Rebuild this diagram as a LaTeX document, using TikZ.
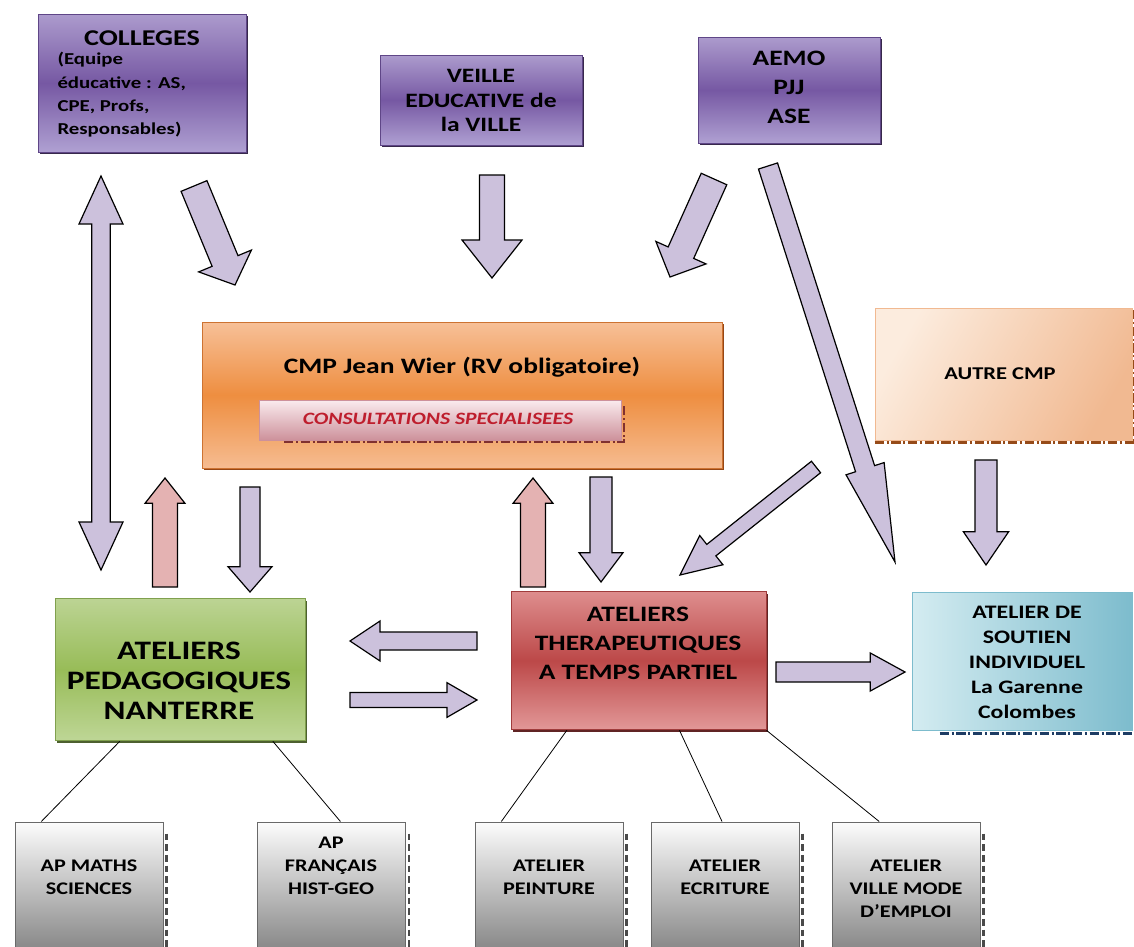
\documentclass[tikz,border=0pt]{standalone}
\usepackage{fontspec}
\setmainfont{Carlito}[FakeStretch=1.25]
\usetikzlibrary{calc,shadows}

\definecolor{purpTop}{RGB}{172,155,205}
\definecolor{purpMid}{RGB}{118,88,163}
\definecolor{purpBot}{RGB}{175,160,210}
\definecolor{purpLine}{RGB}{95,70,135}
\definecolor{purpShadow}{RGB}{55,40,75}
\definecolor{orTop}{RGB}{247,192,152}
\definecolor{orMid}{RGB}{238,142,64}
\definecolor{orBot}{RGB}{246,188,145}
\definecolor{orLine}{RGB}{205,115,50}
\definecolor{orShadow}{RGB}{150,70,20}
\definecolor{pinkTop}{RGB}{250,235,238}
\definecolor{pinkBot}{RGB}{205,145,155}
\definecolor{pinkText}{RGB}{190,30,45}
\definecolor{peachA}{RGB}{252,236,222}
\definecolor{peachB}{RGB}{241,185,145}
\definecolor{peachEdge}{RGB}{150,75,25}
\definecolor{grTop}{RGB}{188,212,148}
\definecolor{grMid}{RGB}{152,188,88}
\definecolor{grBot}{RGB}{190,214,150}
\definecolor{grLine}{RGB}{128,160,78}
\definecolor{rdTop}{RGB}{222,142,142}
\definecolor{rdMid}{RGB}{188,72,72}
\definecolor{rdBot}{RGB}{226,152,152}
\definecolor{rdLine}{RGB}{160,60,60}
\definecolor{blA}{RGB}{212,236,241}
\definecolor{blB}{RGB}{125,188,205}
\definecolor{blEdge}{RGB}{30,60,100}
\definecolor{gyTop}{RGB}{252,252,252}
\definecolor{gyBot}{RGB}{135,135,135}
\definecolor{gyLine}{RGB}{105,105,105}
\definecolor{lavArrow}{RGB}{204,193,220}
\definecolor{pinkArrow}{RGB}{228,178,178}

\newcommand{\fs}[2]{\fontsize{#1}{#2}\selectfont\bfseries}

% block arrow: [fill]{from}{to}{half shaft}{half head}{head length}
\newcommand{\blockarrow}[6][lavArrow]{%
  \coordinate (hb) at ($(#3)!#6!(#2)$);
  \draw[barrow, fill=#1] ($(#2)!#4!90:(#3)$) -- ($(hb)!#4!90:(#3)$) -- ($(hb)!#5!90:(#3)$) -- (#3) -- ($(hb)!#5!-90:(#3)$) -- ($(hb)!#4!-90:(#3)$) -- ($(#2)!#4!-90:(#3)$) -- cycle;
}
\newcommand{\dblarrow}[6][lavArrow]{%
  \coordinate (ha) at ($(#2)!#6!(#3)$);
  \coordinate (hb) at ($(#3)!#6!(#2)$);
  \draw[barrow, fill=#1] (#2) -- ($(ha)!#5!90:(#3)$) -- ($(ha)!#4!90:(#3)$) -- ($(hb)!#4!90:(#3)$) -- ($(hb)!#5!90:(#3)$) -- (#3) -- ($(hb)!#5!-90:(#3)$) -- ($(hb)!#4!-90:(#3)$) -- ($(ha)!#4!-90:(#3)$) -- ($(ha)!#5!-90:(#3)$) -- cycle;
}

\tikzset{every picture/.style={line width=0.75pt}}
\tikzset{
  box/.style={rectangle, inner sep=0pt, line width=0.75pt},
  boxshade/.style={drop shadow={shadow xshift=1.8pt, shadow yshift=-1.8pt, fill=#1, opacity=1}},
  lbl/.style={align=center, inner sep=0pt},
  barrow/.style={draw=black, line width=0.9pt, line join=miter},
  link/.style={draw=black, line width=0.6pt},
  edgedash/.style={line width=1.8pt, dash pattern=on 7pt off 2pt on 1.5pt off 2pt},
}

\begin{document}
\begin{tikzpicture}[x=0.75pt,y=0.75pt,yscale=-1,xscale=1]
	\useasboundingbox (0,0) rectangle (1134,946);

	%Shape: Rectangle [colleges]
	\node[box, boxshade=purpShadow, draw=purpLine, top color=purpTop, bottom color=purpBot, middle color=purpMid, minimum width=156pt, minimum height=103.5pt] (colleges) at (142,83) {};
	%Shape: Rectangle [veille]
	\node[box, boxshade=purpShadow, draw=purpLine, top color=purpTop, bottom color=purpBot, middle color=purpMid, minimum width=151.5pt, minimum height=67.5pt] (veille) at (481,100) {};
	%Shape: Rectangle [aemo]
	\node[box, boxshade=purpShadow, draw=purpLine, top color=purpTop, bottom color=purpBot, middle color=purpMid, minimum width=136.5pt, minimum height=79.5pt] (aemo) at (789,90) {};
	%Shape: Rectangle [cmp]
	\node[box, boxshade=orShadow, draw=orLine, top color=orTop, bottom color=orBot, middle color=orMid, minimum width=390pt, minimum height=109.5pt] (cmp) at (462,395) {};
	%Shape: Rectangle [consult]
	\draw[edgedash, color=rdLine!80!black] ($(cmp.center)+(-178,47)$) -- ($(cmp.center)+(162,47)$) -- ($(cmp.center)+(162,10)$);
	\node[box, draw=pinkBot, top color=pinkTop, bottom color=pinkBot, minimum width=272pt, minimum height=30pt] (consult) at (440.5,420) {};
	%Shape: Rectangle [autre]
	\node[box, draw=peachB, left color=peachA, right color=peachB, shading angle=60, minimum width=192.75pt, minimum height=99pt] (autre) at (1003.5,374) {};
	\draw[edgedash, color=peachEdge] ($(autre.south west)+(0,2)$) -- ($(autre.south east)+(2,2)$) -- ($(autre.north east)+(2,0)$);
	%Shape: Rectangle [peda]
	\node[box, boxshade=grLine!60!black, draw=grLine, top color=grTop, bottom color=grBot, middle color=grMid, minimum width=187.5pt, minimum height=107pt] (peda) at (180,669.5) {};
	%Shape: Rectangle [thera]
	\node[box, boxshade=rdLine!60!black, draw=rdLine, top color=rdTop, bottom color=rdBot, middle color=rdMid, minimum width=191.25pt, minimum height=104pt] (thera) at (638.5,660.5) {};
	%Shape: Rectangle [soutien]
	\node[box, draw=blB, left color=blA, right color=blB, minimum width=165pt, minimum height=103.5pt] (soutien) at (1022,661) {};
	\draw[edgedash, color=blEdge] ($(soutien.south west)+(28,3)$) -- ($(soutien.south east)+(0,3)$);

	%Shape: Rectangle [bottom row]
	\foreach \nm/\cx in {apmath/89, apfr/331.5, peint/549, ecri/725, ville/906}{
		\node[box, draw=gyLine, top color=gyTop, bottom color=gyBot, minimum width=111pt, minimum height=96pt] (\nm) at (\cx,886) {};
		\draw[line width=2pt, color=gyLine!70!black, dash pattern=on 5pt off 3pt] ($(\nm.north east)+(3,12)$) -- ($(\nm.south east)+(3,0)$);
	}

	%Straight Lines
	\draw[link] ($(peda.south west)!0.26!(peda.south east)$) -- ($(apmath.north west)!0.18!(apmath.north east)$);
	\draw[link] ($(peda.south west)!0.87!(peda.south east)$) -- ($(apfr.north west)!0.56!(apfr.north east)$);
	\draw[link] ($(thera.south west)!0.22!(thera.south east)$) -- ($(peint.north west)!0.18!(peint.north east)$);
	\draw[link] ($(thera.south west)!0.66!(thera.south east)$) -- ($(ecri.north west)!0.48!(ecri.north east)$);
	\draw[link] (thera.south east) -- ($(ville.north west)!0.32!(ville.north east)$);

	%Block Arrows
	\coordinate (dbl-top) at (101,176);
	\coordinate (dbl-bot) at (101,570);
	\dblarrow{dbl-top}{dbl-bot}{7pt}{16.5pt}{36pt}
	\coordinate (col-a) at (194,186);
	\coordinate (col-b) at (235,285);
	\blockarrow{col-a}{col-b}{10.5pt}{21.4pt}{19.5pt}
	\coordinate (vei-a) at (492,175);
	\coordinate (vei-b) at (492,278);
	\blockarrow{vei-a}{vei-b}{9.4pt}{22.5pt}{28.5pt}
	\coordinate (aem-a) at (714,179);
	\coordinate (aem-b) at (670,277);
	\blockarrow{aem-a}{aem-b}{10.5pt}{20.6pt}{20pt}
	\coordinate (lng-a) at (768,166);
	\coordinate (lng-b) at (895,562);
	\blockarrow{lng-a}{lng-b}{7.5pt}{15pt}{73.5pt}
	\coordinate (ath-a) at (816,467);
	\coordinate (ath-b) at (680,575);
	\blockarrow{ath-a}{ath-b}{5.5pt}{14pt}{30pt}
	\coordinate (aut-a) at (986,460);
	\coordinate (aut-b) at (986,565);
	\blockarrow{aut-a}{aut-b}{8.25pt}{17pt}{25pt}
	\coordinate (pk1-a) at (165,587);
	\coordinate (pk1-b) at (165,478);
	\blockarrow[pinkArrow]{pk1-a}{pk1-b}{9.4pt}{15pt}{19pt}
	\coordinate (lv1-a) at (250,487);
	\coordinate (lv1-b) at (250,592);
	\blockarrow{lv1-a}{lv1-b}{7.5pt}{16.5pt}{19pt}
	\coordinate (pk2-a) at (533,587);
	\coordinate (pk2-b) at (533,478);
	\blockarrow[pinkArrow]{pk2-a}{pk2-b}{9.4pt}{15pt}{19pt}
	\coordinate (lv2-a) at (601,477);
	\coordinate (lv2-b) at (601,582);
	\blockarrow{lv2-a}{lv2-b}{8.25pt}{16.5pt}{22pt}
	\coordinate (lft-a) at (477,641);
	\coordinate (lft-b) at (350,641);
	\blockarrow{lft-a}{lft-b}{6.75pt}{15pt}{22.5pt}
	\coordinate (rgt-a) at (350,700);
	\coordinate (rgt-b) at (477,700);
	\blockarrow{rgt-a}{rgt-b}{5.6pt}{13pt}{22.5pt}
	\coordinate (sou-a) at (776,672);
	\coordinate (sou-b) at (905,672);
	\blockarrow{sou-a}{sou-b}{7.5pt}{14.25pt}{26pt}

	% Text Node
	\node[lbl, font=\fs{16.9}{20}] (colleges-t) at (142,38) {COLLEGES};
	% Text Node
	\node[lbl, align=left, anchor=north west, font=\fs{12.5}{17.5}] (colleges-b) at (57,52) {(Equipe\\éducative : AS,\\CPE, Profs,\\Responsables)};
	% Text Node
	\node[lbl, font=\fs{15.3}{18.4}] (veille-t) at (481,100.5) {VEILLE\\EDUCATIVE de\\la VILLE};
	% Text Node
	\node[lbl, font=\fs{16.5}{21.75}] (aemo-t) at (789,87) {AEMO\\PJJ\\ASE};
	% Text Node
	\node[lbl, font=\fs{16.5}{20}] (cmp-t) at (462,367) {CMP Jean Wier (RV obligatoire)};
	% Text Node
	\node[lbl, text=pinkText, font=\fs{13}{16}\itshape] (consult-t) at (438,419) {CONSULTATIONS SPECIALISEES};
	% Text Node
	\node[lbl, font=\fs{13.5}{16}] (autre-t) at (1000,374) {AUTRE CMP};
	% Text Node
	\node[lbl, font=\fs{20}{22.5}] (peda-t) at (179,681) {ATELIERS\\PEDAGOGIQUES\\NANTERRE};
	% Text Node
	\node[lbl, font=\fs{16.5}{22}] (thera-t) at (638,643.5) {ATELIERS\\THERAPEUTIQUES\\A TEMPS PARTIEL};
	% Text Node
	\node[lbl, font=\fs{14.3}{18.75}] (soutien-t) at (1027,662) {ATELIER DE\\SOUTIEN\\INDIVIDUEL\\La Garenne\\Colombes};
	% Text Node
	\node[lbl, font=\fs{13.3}{17.25}] (apmath-t) at (89,877.5) {AP MATHS\\SCIENCES};
	% Text Node
	\node[lbl, font=\fs{13.3}{17.25}] (apfr-t) at (331,866) {AP\\FRANÇAIS\\HIST-GEO};
	% Text Node
	\node[lbl, font=\fs{13.3}{17.25}] (peint-t) at (549,877.5) {ATELIER\\PEINTURE};
	% Text Node
	\node[lbl, font=\fs{13.3}{17.25}] (ecri-t) at (725,877.5) {ATELIER\\ECRITURE};
	% Text Node
	\node[lbl, font=\fs{13.3}{17.25}] (ville-t) at (906,889) {ATELIER\\VILLE MODE\\D’EMPLOI};

\end{tikzpicture}
\end{document}
